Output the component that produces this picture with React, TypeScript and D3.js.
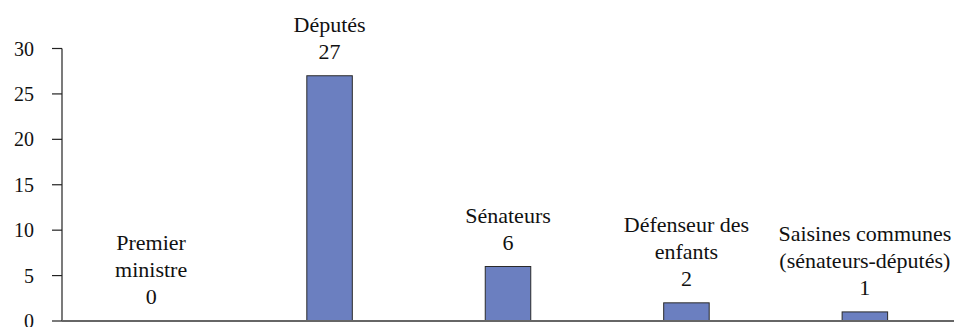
import React, { useEffect, useRef } from "react";
import * as d3 from "d3";

const categories: string[][] = [
  ["Premier", "ministre"],
  ["Députés"],
  ["Sénateurs"],
  ["Défenseur des", "enfants"],
  ["Saisines communes", "(sénateurs-députés)"],
];
const values: number[] = [0, 27, 6, 2, 1];
const yTicks: number[] = [0, 5, 10, 15, 20, 25, 30];

const W = 957;
const H = 327;
const margin = { left: 62, right: 3, top: 48.5, bottom: 6 };
const FONT = "Tinos, Liberation Serif, Times New Roman, serif";

export default function App() {
  const ref = useRef<SVGSVGElement>(null);

  useEffect(() => {
    if (!ref.current) return;
    const svg = d3.select(ref.current);
    svg.selectAll("*").remove();

    const x = d3
      .scaleBand<number>()
      .domain(values.map((_, i) => i))
      .range([margin.left, W - margin.right])
      .paddingInner(0.745)
      .paddingOuter(0.372);
    const y = d3
      .scaleLinear()
      .domain([0, 30])
      .range([H - margin.bottom, margin.top]);

    const lineH = 27;
    const labelGap = 17;

    // y axis with ticks on the left
    svg
      .append("line")
      .attr("x1", margin.left)
      .attr("x2", margin.left)
      .attr("y1", y(30))
      .attr("y2", y(0))
      .attr("stroke", "#222")
      .attr("stroke-width", 1.2);
    const ticks = svg.append("g").selectAll("g").data(yTicks).join("g");
    ticks
      .append("line")
      .attr("x1", margin.left - 10)
      .attr("x2", margin.left)
      .attr("y1", (d) => y(d))
      .attr("y2", (d) => y(d))
      .attr("stroke", "#222")
      .attr("stroke-width", 1.2);
    ticks
      .append("text")
      .attr("x", 34)
      .attr("y", (d) => y(d))
      .attr("dy", "0.35em")
      .attr("text-anchor", "end")
      .attr("fill", "#111")
      .attr("font-family", FONT)
      .attr("font-size", 20)
      .text((d) => String(d));

    // bars
    svg
      .append("g")
      .selectAll("rect")
      .data(values.map((v, i) => ({ v, i })).filter((d) => d.v > 0))
      .join("rect")
      .attr("x", (d) => x(d.i)!)
      .attr("y", (d) => y(d.v))
      .attr("width", x.bandwidth())
      .attr("height", (d) => y(0) - y(d.v))
      .attr("fill", "#6b7fc0")
      .attr("stroke", "#2a2a2a")
      .attr("stroke-width", 1);

    // x axis baseline
    svg
      .append("line")
      .attr("x1", margin.left)
      .attr("x2", W - margin.right)
      .attr("y1", y(0))
      .attr("y2", y(0))
      .attr("stroke", "#666")
      .attr("stroke-width", 2);

    // category names and values above each bar
    values.forEach((v, i) => {
      const cx = x(i)! + x.bandwidth() / 2;
      const lines = [...categories[i], String(v)];
      const base = y(v) - labelGap;
      const t = svg
        .append("text")
        .attr("text-anchor", "middle")
        .attr("fill", "#111")
        .attr("font-family", FONT)
        .attr("font-size", 22);
      lines.forEach((l, k) => {
        t.append("tspan")
          .attr("x", cx)
          .attr("y", base - (lines.length - 1 - k) * lineH)
          .text(l);
      });
    });
  }, []);

  return (
    <svg
      ref={ref}
      width={W}
      height={H}
      style={{ position: "fixed", left: 0, top: 0, background: "#fff" }}
    />
  );
}
